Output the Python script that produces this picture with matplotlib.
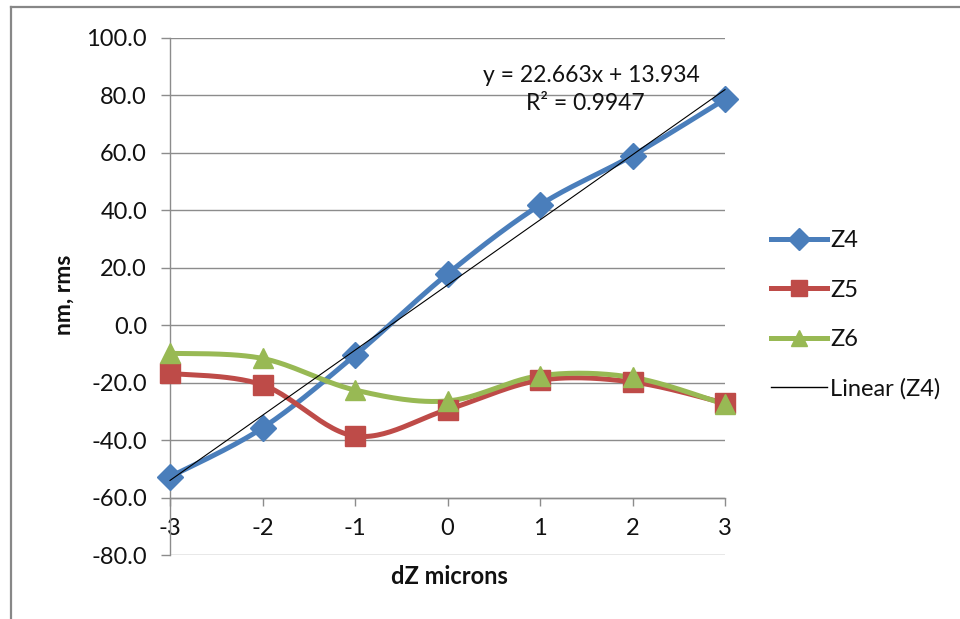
import numpy as np
import matplotlib.pyplot as plt
from matplotlib.lines import Line2D

plt.rcParams['font.family'] = ['Lato', 'DejaVu Sans']

dz = [-3, -2, -1, 0, 1, 2, 3]
z4 = [-52.8, -35.8, -10.5, 17.8, 41.8, 59.0, 78.6]
z5 = [-16.8, -20.8, -38.6, -29.4, -19.2, -19.8, -27.2]
z6 = [-9.8, -11.6, -22.6, -26.4, -17.6, -18.2, -27.6]
fit_slope, fit_intercept = 22.663, 13.934
fit_r2 = 0.9947

blue = "#4A7EBB"
red = "#BE4B48"
green = "#98B954"
grid_gray = "#8C8C8C"
txt = "#111111"


def smooth(x, y, n=30):
    # Excel-like smoothed line: cubic bezier through points (Catmull-Rom controls)
    p = np.column_stack([x, y]).astype(float)
    m = len(p)
    out = []
    for i in range(m - 1):
        p0 = p[i - 1] if i > 0 else p[i]
        p1, p2 = p[i], p[i + 1]
        p3 = p[i + 2] if i + 2 < m else p[i + 1]
        c1 = p1 + (p2 - p0) / 6
        c2 = p2 - (p3 - p1) / 6
        t = np.linspace(0, 1, n)[:, None]
        seg = ((1 - t) ** 3) * p1 + 3 * ((1 - t) ** 2) * t * c1 + 3 * (1 - t) * t ** 2 * c2 + t ** 3 * p2
        out.append(seg if i == 0 else seg[1:])
    out = np.vstack(out)
    return out[:, 0], out[:, 1]


fig = plt.figure(figsize=(9.6, 6.19), dpi=100)
ax = fig.add_axes([170 / 960, 1 - 555 / 619, 555 / 960, (555 - 37.7) / 619])

series = [
    (z4, blue, "D", 13, "Z4"),
    (z5, red, "s", 14, "Z5"),
    (z6, green, "^", 14, "Z6"),
]
for vals, col, mk, ms, name in series:
    sx, sy = smooth(dz, vals)
    ax.plot(sx, sy, color=col, lw=3.6, solid_capstyle="round", zorder=3, clip_on=False)
    ax.plot(dz, vals, linestyle="none", marker=mk, ms=ms, color=col, zorder=4, clip_on=False)

xs = np.array([dz[0], dz[-1]], dtype=float)
ax.plot(xs, fit_slope * xs + fit_intercept, color="black", lw=0.8, zorder=5, clip_on=False)

ax.set_xlim(-3, 3)
ax.set_ylim(-80, 100)
ax.set_yticks(np.arange(-80, 101, 20))
ax.set_yticklabels([f"{v:.1f}" for v in np.arange(-80, 101, 20)])
ax.set_xticks(dz)
ax.set_xticklabels([str(v) for v in dz])

for s in ["top", "right"]:
    ax.spines[s].set_visible(False)
ax.spines["bottom"].set_position(("data", -60))
ax.spines["bottom"].set_color(grid_gray)
ax.spines["left"].set_color(grid_gray)
ax.spines["bottom"].set_linewidth(1)
ax.spines["left"].set_linewidth(1)
ax.grid(axis="y", color=grid_gray, lw=1)
ax.set_axisbelow(True)
ax.tick_params(axis="y", direction="out", length=6.5, width=1, color=grid_gray,
               labelsize=17, pad=10, labelcolor=txt)
ax.tick_params(axis="x", direction="out", length=6, width=1, color=grid_gray,
               labelsize=17, pad=9, labelcolor=txt)

fig.text(64 / 960, 1 - 295 / 619, "nm, rms", rotation=90, ha="center", va="center",
         fontsize=16.5, fontweight="bold", color=txt)
fig.text(449 / 960, 1 - 577 / 619, "dZ microns", ha="center", va="center",
         fontsize=17, fontweight="bold", color=txt)

fig.text(591 / 960, 1 - 75 / 619, f"y = {fit_slope}x + {fit_intercept}", ha="center",
         va="center", fontsize=16.5, color=txt)
fig.text(585 / 960, 1 - 104 / 619, f"R² = {fit_r2}", ha="center", va="center",
         fontsize=16.5, color=txt)

handles = [Line2D([], [], color=c, lw=3.6, marker=m, ms=ms) for _, c, m, ms, _ in series]
handles.append(Line2D([], [], color="black", lw=1))
labels = [s[4] for s in series] + ["Linear (Z4)"]
leg = fig.legend(handles, labels, loc="center left", bbox_to_anchor=(750 / 960, 1 - 315 / 619),
                 frameon=False, fontsize=17, handlelength=2.35, handletextpad=0.15,
                 labelspacing=1.2, markerscale=0.85)
for t in leg.get_texts():
    t.set_color(txt)

# chart border (left and top edges visible)
fig.add_artist(Line2D([11 / 960, 11 / 960], [0, 1 - 7 / 619], color="#878787", lw=1.6))
fig.add_artist(Line2D([11 / 960, 1], [1 - 7 / 619, 1 - 7 / 619], color="#878787", lw=1.6))

fig.savefig("out.png", dpi=100)
